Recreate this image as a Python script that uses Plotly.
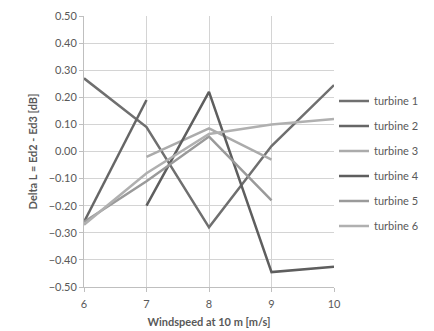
import plotly.graph_objects as go

windspeed = [6, 7, 8, 9, 10]
turbines = ["turbine 1", "turbine 2", "turbine 3", "turbine 4", "turbine 5", "turbine 6"]
delta_l = [
    [0.27, 0.09, -0.28, 0.02, 0.245],
    [-0.26, 0.19, None, None, None],
    [None, -0.02, 0.085, -0.03, None],
    [None, -0.20, 0.22, -0.445, -0.425],
    [-0.26, -0.11, 0.055, -0.18, None],
    [-0.27, -0.08, 0.065, 0.10, 0.12],
]
colors = ["#6f6f6f", "#666666", "#ababab", "#5e5e5e", "#9a9a9a", "#b0b0b0"]
y_ticks = [0.5, 0.4, 0.3, 0.2, 0.1, 0.0, -0.1, -0.2, -0.3, -0.4, -0.5]

fig = go.Figure()
for name, vals, col in zip(turbines, delta_l, colors):
    fig.add_trace(go.Scatter(
        x=windspeed, y=vals, name=name, mode="lines",
        line=dict(color=col, width=2.5), legendgroup=name,
    ))

# page has an 8px body margin, so the figure is a bit smaller than the window
fig.update_layout(
    width=426, height=323,
    margin=dict(l=76, r=100, t=8, b=44, autoexpand=False),
    paper_bgcolor="white", plot_bgcolor="white",
    font=dict(family="Lato, Open Sans, sans-serif", size=11, color="#595959"),
    showlegend=True,
    legend=dict(x=1.0, y=0.74, xanchor="left", yanchor="top",
                font=dict(size=11, color="#595959"), tracegroupgap=6,
                itemwidth=30),
)
fig.update_xaxes(
    range=[6, 10], tickvals=windspeed, showgrid=True, gridcolor="#d4d4d4",
    showline=True, linecolor="#bfbfbf", ticks="outside", ticklen=4, tickcolor="#bfbfbf",
    zeroline=False, ticklabeloverflow="allow", ticklabelstandoff=3,
    title=dict(text="<b>Windspeed at 10 m [m/s]</b>", font=dict(size=11, color="#595959"), standoff=9),
)
fig.update_yaxes(
    range=[-0.5, 0.5], tickvals=y_ticks, tickformat=".2f", showgrid=True, gridcolor="#d4d4d4",
    showline=True, linecolor="#bfbfbf", ticks="outside", ticklen=4, tickcolor="#bfbfbf",
    zeroline=False, ticklabeloverflow="allow",
    title=dict(text="<b>Delta L = Ed2 - Ed3 [dB]</b>", font=dict(size=11, color="#595959"), standoff=8),
)

fig.write_html("out.html")
